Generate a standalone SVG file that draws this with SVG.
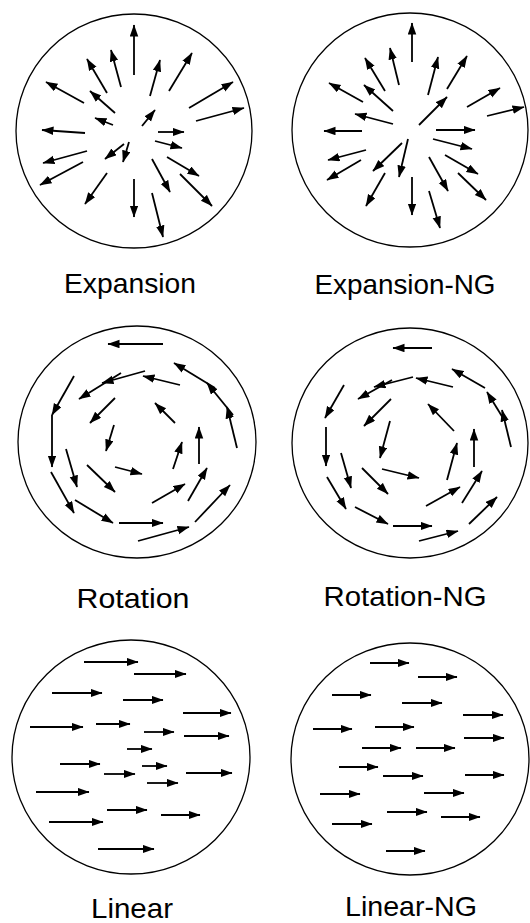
<svg xmlns="http://www.w3.org/2000/svg" width="530" height="923" viewBox="0 0 530 923">
<defs>
<marker id="ah" markerUnits="userSpaceOnUse" markerWidth="13" markerHeight="10" refX="11.5" refY="4.25" orient="auto"><path d="M0,0 L12,4.25 L0,8.5 z" fill="#000"/></marker>
<style>
.c{fill:none;stroke:#000;stroke-width:1.3}
.a line{stroke:#000;stroke-width:1.8;marker-end:url(#ah)}
.t{font-family:"Liberation Sans",Arial,sans-serif;font-size:27.5px;fill:#000;text-anchor:middle}
</style>
</defs>
<rect width="530" height="923" fill="#fff"/>

<g id="expansion">
<ellipse class="c" cx="134" cy="131" rx="118" ry="117"/>
<g class="a">
<line x1="134" y1="75" x2="134" y2="25"/>
<line x1="121" y1="87" x2="111" y2="50"/>
<line x1="107" y1="93" x2="87" y2="59"/>
<line x1="84" y1="103" x2="46" y2="82"/>
<line x1="115" y1="113" x2="90" y2="91"/>
<line x1="113" y1="125" x2="95" y2="118"/>
<line x1="85" y1="133" x2="42" y2="130"/>
<line x1="87" y1="151" x2="43" y2="163"/>
<line x1="83" y1="162" x2="40" y2="185"/>
<line x1="107" y1="173" x2="85" y2="204"/>
<line x1="124" y1="144" x2="105" y2="159"/>
<line x1="129" y1="142" x2="123" y2="162"/>
<line x1="134" y1="179" x2="134" y2="217"/>
<line x1="152" y1="193" x2="163" y2="237"/>
<line x1="152" y1="159" x2="170" y2="192"/>
<line x1="180" y1="174" x2="212" y2="206"/>
<line x1="167" y1="157" x2="199" y2="176"/>
<line x1="155" y1="141" x2="182" y2="148"/>
<line x1="158" y1="132" x2="184" y2="132"/>
<line x1="142" y1="126" x2="155" y2="110"/>
<line x1="196" y1="121" x2="244" y2="108"/>
<line x1="189" y1="108" x2="233" y2="82"/>
<line x1="169" y1="91" x2="192" y2="53"/>
<line x1="150" y1="96" x2="160" y2="60"/>
</g>
<text class="t" x="130" y="293" textLength="132" lengthAdjust="spacingAndGlyphs">Expansion</text>
</g>

<g id="expansion-ng">
<ellipse class="c" cx="410" cy="130" rx="118" ry="117"/>
<g class="a">
<line x1="412" y1="62" x2="412" y2="23"/>
<line x1="399" y1="85" x2="390" y2="48"/>
<line x1="385" y1="91" x2="365" y2="58"/>
<line x1="363" y1="102" x2="329" y2="83"/>
<line x1="393" y1="111" x2="364" y2="85"/>
<line x1="393" y1="124" x2="355" y2="114"/>
<line x1="362" y1="131" x2="324" y2="131"/>
<line x1="366" y1="150" x2="328" y2="160"/>
<line x1="361" y1="160" x2="327" y2="180"/>
<line x1="385" y1="173" x2="366" y2="206"/>
<line x1="402" y1="143" x2="373" y2="171"/>
<line x1="408" y1="139" x2="399" y2="177"/>
<line x1="412" y1="177" x2="412" y2="215"/>
<line x1="429" y1="191" x2="440" y2="228"/>
<line x1="429" y1="157" x2="448" y2="191"/>
<line x1="458" y1="173" x2="486" y2="200"/>
<line x1="445" y1="155" x2="478" y2="174"/>
<line x1="433" y1="139" x2="472" y2="149"/>
<line x1="436" y1="130" x2="475" y2="130"/>
<line x1="419" y1="125" x2="447" y2="97"/>
<line x1="487" y1="116" x2="524" y2="107"/>
<line x1="467" y1="107" x2="500" y2="88"/>
<line x1="447" y1="89" x2="467" y2="56"/>
<line x1="428" y1="95" x2="438" y2="57"/>
</g>
<text class="t" x="405" y="294" textLength="181" lengthAdjust="spacingAndGlyphs">Expansion-NG</text>
</g>

<g id="rotation">
<ellipse class="c" cx="137" cy="442" rx="119" ry="116"/>
<g class="a">
<line x1="163" y1="344" x2="108" y2="344"/>
<line x1="145" y1="371" x2="102" y2="383"/>
<line x1="121" y1="373" x2="79" y2="399"/>
<line x1="180" y1="385" x2="143" y2="376"/>
<line x1="215" y1="388" x2="174" y2="363"/>
<line x1="233" y1="415" x2="207" y2="383"/>
<line x1="237" y1="448" x2="227" y2="407"/>
<line x1="74" y1="376" x2="52" y2="415"/>
<line x1="52" y1="415" x2="52" y2="467"/>
<line x1="115" y1="398" x2="90" y2="423"/>
<line x1="114" y1="425" x2="106" y2="451"/>
<line x1="175" y1="423" x2="155" y2="403"/>
<line x1="199" y1="464" x2="199" y2="427"/>
<line x1="173" y1="469" x2="182" y2="442"/>
<line x1="115" y1="467" x2="142" y2="474"/>
<line x1="66" y1="449" x2="77" y2="487"/>
<line x1="87" y1="465" x2="115" y2="492"/>
<line x1="51" y1="472" x2="74" y2="513"/>
<line x1="75" y1="500" x2="113" y2="523"/>
<line x1="119" y1="523" x2="163" y2="523"/>
<line x1="138" y1="541" x2="189" y2="527"/>
<line x1="152" y1="503" x2="185" y2="484"/>
<line x1="188" y1="501" x2="207" y2="468"/>
<line x1="195" y1="522" x2="230" y2="485"/>
</g>
<text class="t" x="133" y="608" textLength="113" lengthAdjust="spacingAndGlyphs">Rotation</text>
</g>

<g id="rotation-ng">
<ellipse class="c" cx="410" cy="443" rx="118" ry="115"/>
<g class="a">
<line x1="432" y1="348" x2="393" y2="348"/>
<line x1="413" y1="377" x2="374" y2="387"/>
<line x1="392" y1="380" x2="358" y2="399"/>
<line x1="453" y1="387" x2="416" y2="378"/>
<line x1="485" y1="388" x2="452" y2="369"/>
<line x1="503" y1="418" x2="487" y2="392"/>
<line x1="511" y1="447" x2="502" y2="410"/>
<line x1="344" y1="385" x2="325" y2="418"/>
<line x1="326" y1="427" x2="326" y2="466"/>
<line x1="391" y1="399" x2="364" y2="426"/>
<line x1="390" y1="421" x2="380" y2="458"/>
<line x1="454" y1="431" x2="428" y2="404"/>
<line x1="474" y1="467" x2="474" y2="429"/>
<line x1="447" y1="480" x2="457" y2="443"/>
<line x1="382" y1="469" x2="419" y2="478"/>
<line x1="341" y1="453" x2="351" y2="488"/>
<line x1="362" y1="468" x2="388" y2="494"/>
<line x1="327" y1="477" x2="346" y2="509"/>
<line x1="355" y1="507" x2="388" y2="524"/>
<line x1="393" y1="526" x2="432" y2="526"/>
<line x1="419" y1="541" x2="458" y2="531"/>
<line x1="426" y1="506" x2="460" y2="487"/>
<line x1="462" y1="503" x2="482" y2="471"/>
<line x1="469" y1="524" x2="497" y2="497"/>
</g>
<text class="t" x="405" y="606" textLength="163" lengthAdjust="spacingAndGlyphs">Rotation-NG</text>
</g>

<g id="linear">
<ellipse class="c" cx="131" cy="757" rx="119" ry="117"/>
<g class="a">
<line x1="84" y1="662" x2="138" y2="662"/>
<line x1="134" y1="674" x2="186" y2="674"/>
<line x1="52" y1="693" x2="102" y2="693"/>
<line x1="123" y1="700" x2="163" y2="700"/>
<line x1="183" y1="713" x2="231" y2="713"/>
<line x1="30" y1="727" x2="83" y2="727"/>
<line x1="96" y1="724" x2="130" y2="724"/>
<line x1="144" y1="732" x2="174" y2="732"/>
<line x1="184" y1="736" x2="229" y2="736"/>
<line x1="127" y1="749" x2="152" y2="749"/>
<line x1="60" y1="764" x2="100" y2="764"/>
<line x1="142" y1="766" x2="167" y2="766"/>
<line x1="104" y1="774" x2="135" y2="774"/>
<line x1="147" y1="783" x2="178" y2="783"/>
<line x1="186" y1="773" x2="232" y2="773"/>
<line x1="36" y1="792" x2="89" y2="792"/>
<line x1="107" y1="810" x2="147" y2="810"/>
<line x1="161" y1="815" x2="200" y2="815"/>
<line x1="49" y1="822" x2="103" y2="822"/>
<line x1="98" y1="849" x2="154" y2="849"/>
</g>
<text class="t" x="132" y="918" textLength="82" lengthAdjust="spacingAndGlyphs">Linear</text>
</g>

<g id="linear-ng">
<ellipse class="c" cx="410" cy="759" rx="119" ry="116"/>
<g class="a">
<line x1="370" y1="663" x2="409" y2="663"/>
<line x1="418" y1="677" x2="457" y2="677"/>
<line x1="332" y1="695" x2="371" y2="695"/>
<line x1="402" y1="703" x2="442" y2="703"/>
<line x1="463" y1="715" x2="503" y2="715"/>
<line x1="313" y1="729" x2="352" y2="729"/>
<line x1="375" y1="727" x2="414" y2="727"/>
<line x1="464" y1="738" x2="504" y2="738"/>
<line x1="362" y1="748" x2="401" y2="748"/>
<line x1="416" y1="748" x2="455" y2="748"/>
<line x1="339" y1="767" x2="378" y2="767"/>
<line x1="383" y1="776" x2="423" y2="776"/>
<line x1="465" y1="775" x2="504" y2="775"/>
<line x1="320" y1="794" x2="360" y2="794"/>
<line x1="424" y1="793" x2="464" y2="793"/>
<line x1="387" y1="812" x2="427" y2="812"/>
<line x1="441" y1="817" x2="480" y2="817"/>
<line x1="332" y1="824" x2="372" y2="824"/>
<line x1="386" y1="851" x2="425" y2="851"/>
</g>
<text class="t" x="411" y="916" textLength="132" lengthAdjust="spacingAndGlyphs">Linear-NG</text>
</g>
</svg>
